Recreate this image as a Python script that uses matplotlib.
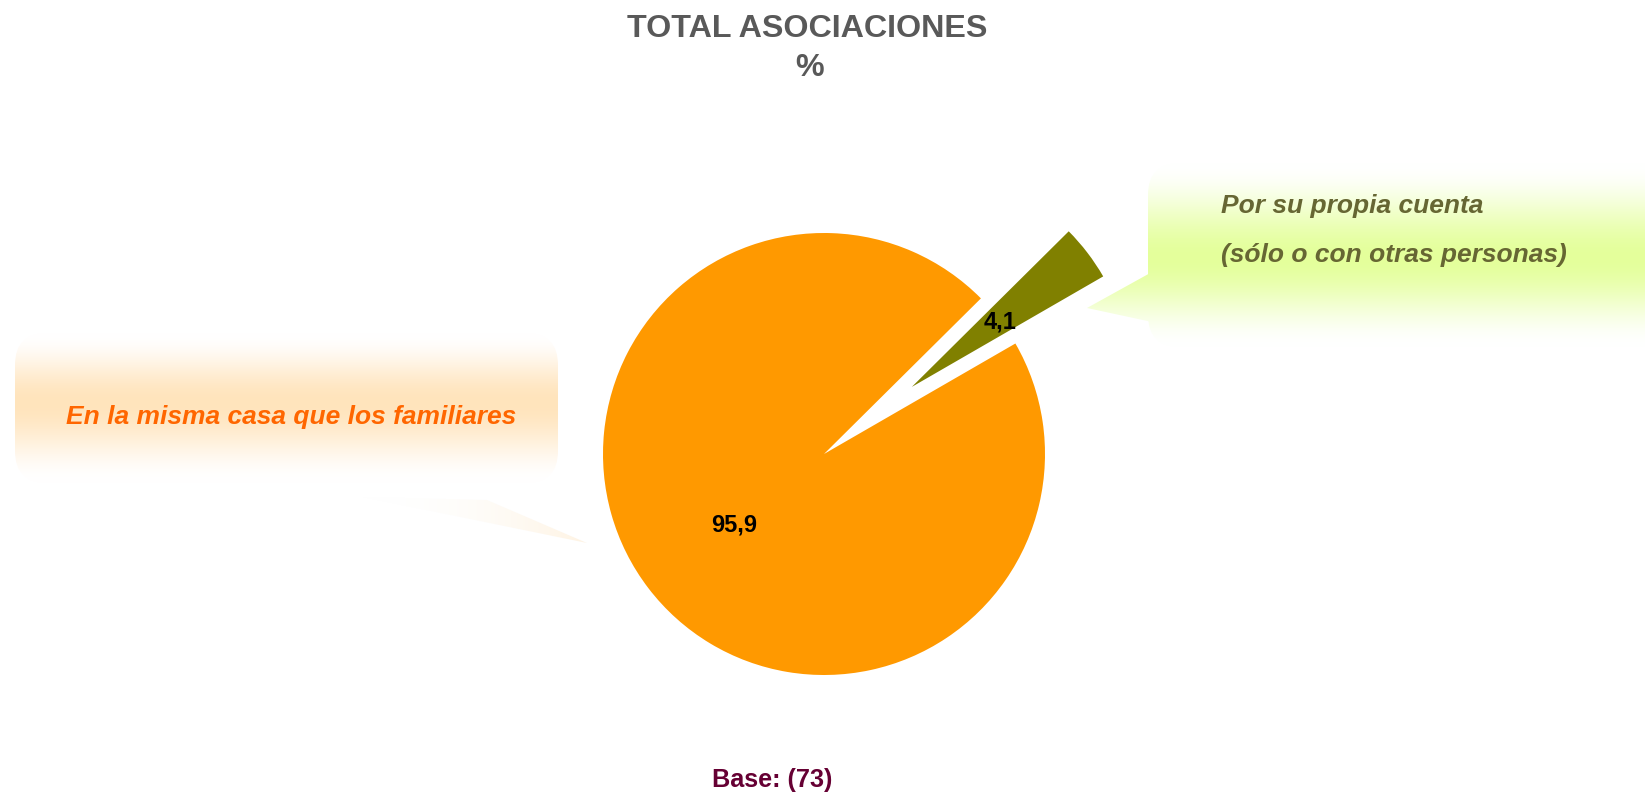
import numpy as np
import matplotlib
matplotlib.use("Agg")
import matplotlib.pyplot as plt
from matplotlib.patches import FancyBboxPatch, Polygon

# ---- data ----
categories = ["Por su propia cuenta\n(sólo o con otras personas)",
              "En la misma casa que los familiares"]
values = [4.1, 95.9]
value_labels = [f"{v:.1f}".replace(".", ",") for v in values]
slice_colors = ["#808000", "#FF9900"]
explode_frac = [0.5, 0.0]
title_lines = ["TOTAL ASOCIACIONES", "%"]
base_text = "Base: (73)"

W, H = 1645, 794
FONT = "Liberation Sans"

fig = plt.figure(figsize=(W / 100, H / 100), dpi=100)
ax = fig.add_axes([0, 0, 1, 1])


def Y(py):
    return H - py


def gradient_fill(ax, clip_patch, x0, x1, ytop, ypeak, ybot, peak_rgb, z):
    """vertical gradient white -> peak -> white, clipped to patch (pixel y coords)"""
    ys = np.linspace(ytop, ybot, 400)
    w = np.where(ys < ypeak, (ys - ytop) / (ypeak - ytop), (ybot - ys) / (ybot - ypeak))
    w = np.clip(w, 0, 1)
    w = w * w * (3 - 2 * w)
    peak = np.array(peak_rgb) / 255.0
    rgb = (1 - w)[:, None] * np.ones(3)[None, :] + w[:, None] * peak[None, :]
    img = np.repeat(rgb[:, None, :], 2, axis=1)
    ax.add_patch(clip_patch)
    im = ax.imshow(img, extent=(x0, x1, Y(ybot), Y(ytop)), origin="upper",
                   aspect="auto", zorder=z, interpolation="bilinear")
    im.set_clip_path(clip_patch)


# ---- left callout ----
lbox = FancyBboxPatch((15, Y(483)), 558 - 15, 483 - 333,
                      boxstyle="round,pad=0,rounding_size=32",
                      facecolor="none", edgecolor="none", zorder=1)
gradient_fill(ax, lbox, 15, 558, 333, 402, 483, (255, 228, 188), 1)

# left tail: faint, strengthening toward tip
ltail = Polygon([(363, Y(497)), (487, Y(500)), (587, Y(543))], closed=True,
                facecolor="none", edgecolor="none", zorder=1)
ax.add_patch(ltail)
xs = np.linspace(0, 1, 300)
wt = 0.5 * xs ** 2
peak = np.array([253, 232, 200]) / 255.0
rgb = (1 - wt)[:, None] * np.ones(3)[None, :] + wt[:, None] * peak[None, :]
img = np.repeat(rgb[None, :, :], 2, axis=0)
im = ax.imshow(img, extent=(363, 587, Y(545), Y(495)), aspect="auto", zorder=1,
               interpolation="bilinear")
im.set_clip_path(ltail)

# ---- right callout ----
rbox = FancyBboxPatch((1148, Y(347)), 1700 - 1148, 347 - 163,
                      boxstyle="round,pad=0,rounding_size=32",
                      facecolor="none", edgecolor="none", zorder=1)
gradient_fill(ax, rbox, 1148, 1700, 163, 258, 347, (228, 255, 155), 1)
rtail = Polygon([(1152, Y(272)), (1087, Y(308)), (1152, Y(322))], closed=True,
                facecolor="none", edgecolor="none", zorder=1)
gradient_fill(ax, rtail, 1080, 1160, 163, 258, 347, (228, 255, 155), 1)

# ---- pie ----
cx, cy, R = 824, Y(454), 221
wedges, _ = ax.pie(values, colors=slice_colors, startangle=30, counterclock=True,
                   explode=[e * R for e in explode_frac], radius=R, center=(cx, cy),
                   wedgeprops=dict(linewidth=0))
for wdg in wedges:
    wdg.set_zorder(3)

label_dist = [0.50, 0.51]
for wdg, lab, d in zip(wedges, value_labels, label_dist):
    th = np.deg2rad((wdg.theta1 + wdg.theta2) / 2)
    wx, wy = wdg.center
    ax.text(wx + R * d * np.cos(th), wy + R * d * np.sin(th), lab,
            ha="center", va="center_baseline", fontsize=17, fontweight="bold",
            color="black", family=FONT, zorder=5)

# ---- callout texts ----
ax.text(66, Y(424), categories[1], ha="left", va="baseline", fontsize=19,
        fontweight="bold", fontstyle="italic", color="#FF6600", family=FONT, zorder=4)
rl = categories[0].split("\n")
ax.text(1221, Y(213), rl[0], ha="left", va="baseline", fontsize=19,
        fontweight="bold", fontstyle="italic", color="#666633", family=FONT, zorder=4)
ax.text(1221, Y(262), rl[1], ha="left", va="baseline", fontsize=19,
        fontweight="bold", fontstyle="italic", color="#666633", family=FONT, zorder=4)

# ---- title and base ----
ax.text(807, Y(37), title_lines[0], ha="center", va="baseline", fontsize=23.2,
        fontweight="bold", color="#595959", family=FONT)
ax.text(810, Y(76), title_lines[1], ha="center", va="baseline", fontsize=23.2,
        fontweight="bold", color="#595959", family=FONT)
ax.text(772, Y(787), base_text, ha="center", va="baseline", fontsize=18.2,
        fontweight="bold", color="#660033", family=FONT)

ax.set_xlim(0, W)
ax.set_ylim(0, H)
ax.set_aspect("auto")
ax.axis("off")
fig.savefig("out.png", dpi=100, facecolor="white")
